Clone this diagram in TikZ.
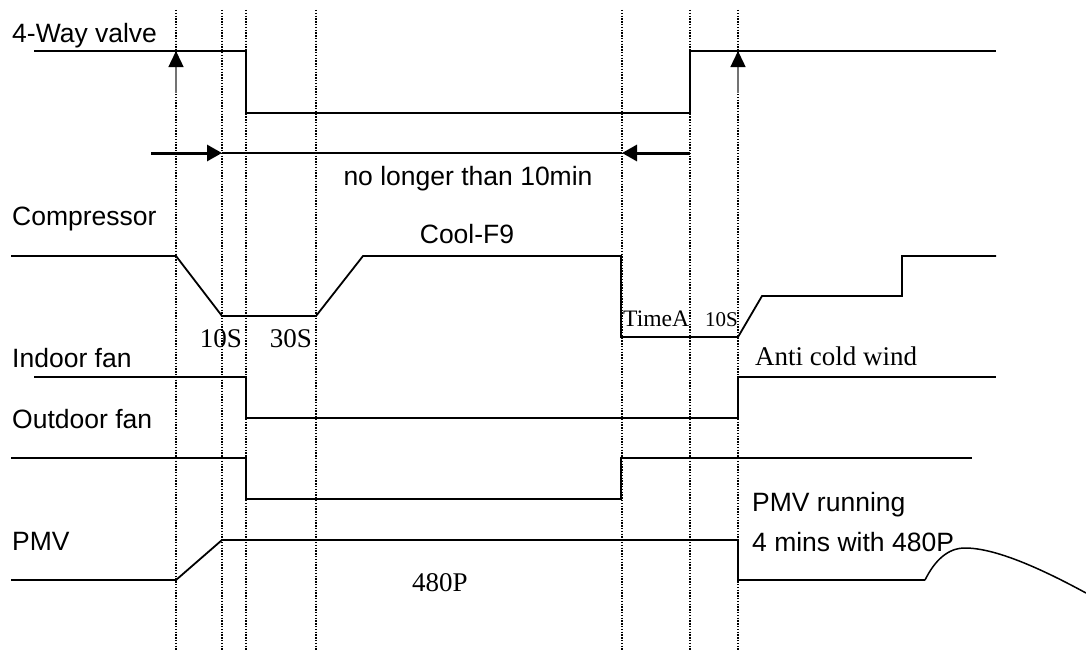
\documentclass[tikz,border=0pt]{standalone}
\usepackage{fontspec}
\setmainfont{Liberation Sans}
\newfontfamily\seriffont{Liberation Serif}
\usetikzlibrary{arrows.meta}
\begin{document}
\begin{tikzpicture}[x=1pt,y=-1pt,
  sig/.style={line width=1.8pt,line join=miter},
  guide/.style={line width=2.4pt,dash pattern=on 1.4pt off 1.4pt},
  lbl/.style={inner sep=0pt,anchor=base west,font=\fontsize{26.5}{30}\selectfont},
  ctr/.style={inner sep=0pt,anchor=base,font=\fontsize{26.5}{30}\selectfont},
  slbl/.style={inner sep=0pt,anchor=base west,font=\seriffont\fontsize{27}{30}\selectfont},
  sctr/.style={inner sep=0pt,anchor=base,font=\seriffont\fontsize{27}{30}\selectfont},
  bigarrow/.style={line width=3pt,-{Triangle[length=15pt,width=16pt]}},
  uparrow/.style={line width=1.4pt,draw=black!55,-{Triangle[length=16pt,width=15pt,color=black,fill=black]}}]
\useasboundingbox (0,0) rectangle (1086,661);
% guide lines
\foreach \n/\x in {a/176,b/222,c/246,d/316,e/622,f/690,g/738}{
  \coordinate (\n top) at (\x,10);
  \coordinate (\n bot) at (\x,650);
  \draw[guide] (\n top) -- (\n bot);
}
% labels
\node[lbl] (l4way) at (12,42) {4-Way valve};
\node[lbl] (lcomp) at (12,225) {Compressor};
\node[lbl] (lind) at (12,367) {Indoor fan};
\node[lbl] (lout) at (12,428) {Outdoor fan};
\node[lbl] (lpmv) at (12,550) {PMV};
\node[ctr] (tlong) at (468,185) {no longer than 10min};
\node[ctr] (tcool) at (467,243) {Cool-F9};
\node[lbl] (trun1) at (752,511) {PMV running};
\node[lbl] (trun2) at (752,551) {4 mins with 480P};
\node[sctr] (t10a) at (221,347) {10S};
\node[sctr] (t30) at (291,347) {30S};
\node[slbl,font=\seriffont\fontsize{23.6}{26}\selectfont] (ttimea) at (623,326) {TimeA};
\node[slbl,font=\seriffont\fontsize{21}{24}\selectfont] (t10b) at (705,326) {10S};
\node[slbl] (tanti) at (755,365) {Anti cold wind};
\node[sctr] (t480) at (440,591) {480P};
% 4-way valve
\draw[sig] (34,51) -- (246,51) -- (246,113) -- (690,113) -- (690,51) -- (996,51);
\coordinate (ua1s) at (176,93); \coordinate (ua1e) at (176,51);
\coordinate (ua2s) at (738,93); \coordinate (ua2e) at (738,51);
\draw[uparrow] (ua1s) -- (ua1e);
\draw[uparrow] (ua2s) -- (ua2e);
% duration arrows
\coordinate (dl0) at (151,153); \coordinate (dl1) at (222,153);
\coordinate (dr0) at (690,153); \coordinate (dr1) at (622,153);
\draw[line width=1.5pt] (dl1) -- (dr1);
\draw[bigarrow] (dl0) -- (dl1);
\draw[bigarrow] (dr0) -- (dr1);
% compressor
\draw[sig] (11,256) -- (176,256) -- (222,316) -- (316,316) -- (363,256) -- (621,256) -- (621,337) -- (738,337) -- (762,296) -- (902,296) -- (902,256) -- (996,256);
% indoor fan
\draw[sig] (34,377) -- (246,377) -- (246,418) -- (738,418) -- (738,377) -- (996,377);
% outdoor fan
\draw[sig] (11,458) -- (246,458) -- (246,499) -- (621,499) -- (621,458) -- (972,458);
% PMV
\draw[sig] (11,580) -- (176,580) -- (222,540) -- (738,540) -- (738,580) -- (925,580);
\draw[line width=1.5pt] (925,580) .. controls (935,560) and (948,548) .. (965,548) .. controls (995,548) and (1040,568) .. (1086,593);
\end{tikzpicture}
\end{document}
